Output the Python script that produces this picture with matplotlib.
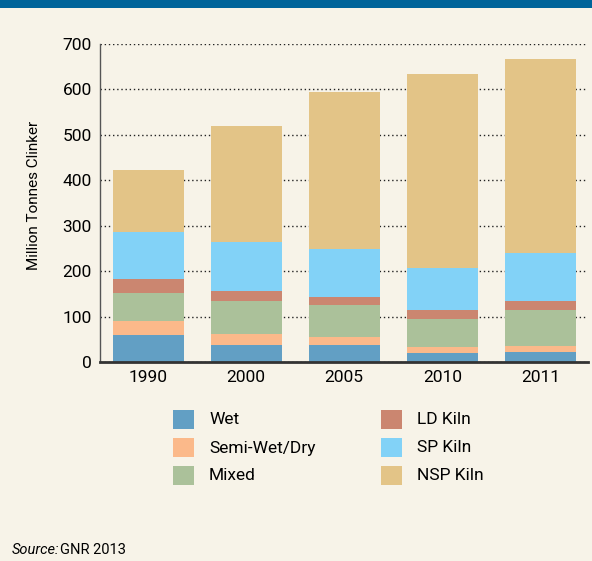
import matplotlib
import matplotlib.pyplot as plt
from matplotlib.patches import Rectangle
matplotlib.use('Agg')

plt.rcParams['font.family'] = ['Roboto', 'DejaVu Sans']

years = ['1990', '2000', '2005', '2010', '2011']
kiln_types = ['Wet', 'Semi-Wet/Dry', 'Mixed', 'LD Kiln', 'SP Kiln', 'NSP Kiln']
wet = [59, 37, 37, 19, 21]
semi_wet_dry = [31, 25, 17, 13, 14]
mixed = [62, 72, 71, 62, 79]
ld_kiln = [30, 22, 18, 20, 20]
sp_kiln = [105, 109, 105, 94, 106]
nsp_kiln = [136, 255, 347, 427, 426]
colors = ['#629fc4', '#fbb98a', '#abc19a', '#cb8670', '#82d2f7', '#e3c487']

bg = '#f7f3e8'
W, H = 592, 561
fig = plt.figure(figsize=(W / 100, H / 100), dpi=100, facecolor=bg)

# top banner strip
fig.patches.append(Rectangle((0, 1 - 8 / H), 1, 8 / H, transform=fig.transFigure,
                             facecolor='#00649a', edgecolor='none'))

ax = fig.add_axes([100 / W, (H - 362) / H, 488 / W, 318 / H])
ax.set_facecolor(bg)

series = [wet, semi_wet_dry, mixed, ld_kiln, sp_kiln, nsp_kiln]
x = range(len(years))
bottom = [0] * len(years)
for vals, name, c in zip(series, kiln_types, colors):
    ax.bar(x, vals, width=0.725, bottom=bottom, color=c, label=name, zorder=2)
    bottom = [b + v for b, v in zip(bottom, vals)]

ax.set_xlim(-0.49, 4.485)
ax.set_ylim(0, 700)
ax.set_yticks(range(0, 701, 100))
ax.set_xticks(list(x))
ax.set_xticklabels(years)
ax.tick_params(length=0, labelsize=12.5, pad=6)
ax.yaxis.grid(True, linestyle=(0, (1, 2)), color='#222222', linewidth=1, zorder=0)
ax.set_axisbelow(True)
for s in ['top', 'right']:
    ax.spines[s].set_visible(False)
ax.spines['left'].set_color('#555555')
ax.spines['left'].set_linewidth(1)
ax.spines['bottom'].set_color('#333333')
ax.spines['bottom'].set_linewidth(2)
ax.set_ylabel('Million Tonnes Clinker', fontsize=11)
ax.yaxis.set_label_coords(-0.121, 0.525)

# legend: two columns of coloured squares with labels
sq_x = [173, 173, 173, 381, 381, 381]
sq_y = [410, 438, 466, 410, 438, 466]
for name, c, px, py in zip(kiln_types, colors, sq_x, sq_y):
    fig.patches.append(Rectangle((px / W, 1 - (py + 19) / H), 21 / W, 19 / H,
                                 transform=fig.transFigure, facecolor=c, edgecolor='none'))
    fig.text((px + 36) / W, 1 - (py + 10) / H, name, fontsize=12.5, va='center')

fig.text(12 / W, 1 - 550 / H, 'Source:', fontsize=10.5, style='italic', va='center')
fig.text(60 / W, 1 - 550 / H, 'GNR 2013', fontsize=10.5, va='center')

fig.savefig('out.png', dpi=100, facecolor=bg)
